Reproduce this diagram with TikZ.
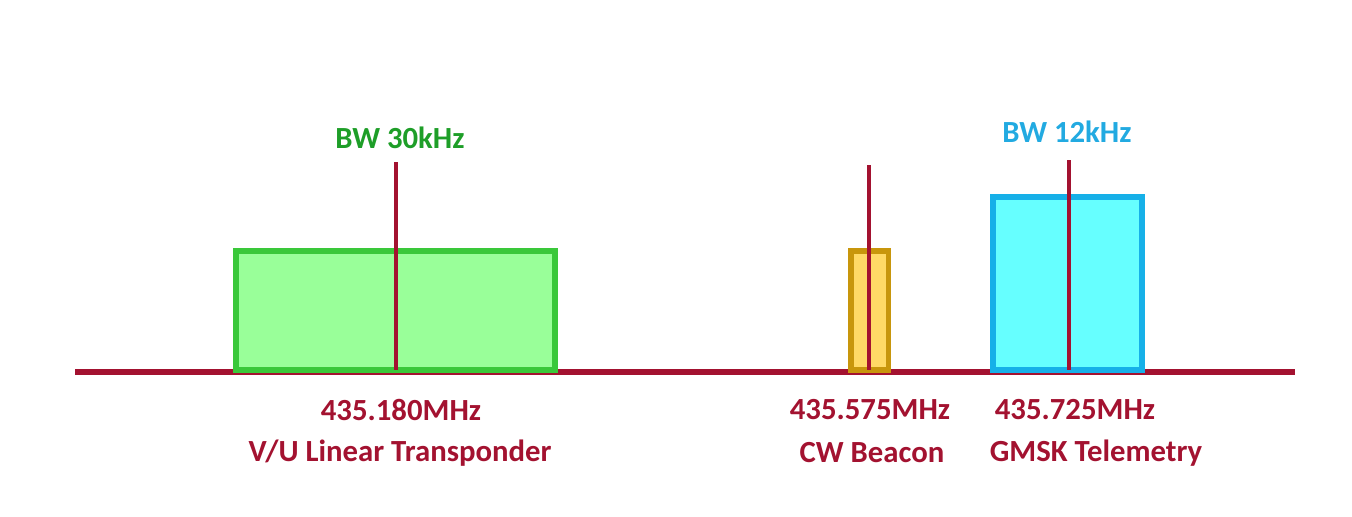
\documentclass[tikz,border=0pt]{standalone}
\usepackage{fontspec}
\setmainfont{Carlito}
\usetikzlibrary{positioning}

\definecolor{axisred}{RGB}{163,18,48}
\definecolor{greenedge}{RGB}{58,200,58}
\definecolor{greenfill}{RGB}{153,255,153}
\definecolor{goldedge}{RGB}{200,150,12}
\definecolor{goldfill}{RGB}{255,217,102}
\definecolor{cyanedge}{RGB}{22,176,232}
\definecolor{cyanfill}{RGB}{102,255,255}
\definecolor{bwgreen}{RGB}{30,158,40}
\definecolor{bwblue}{RGB}{34,170,225}

\tikzset{
  band/.style    = {draw, line width=3.2pt, anchor=south west, inner sep=0pt},
  marker/.style  = {draw=axisred, line width=1.8pt},
  freqlabel/.style = {text=axisred, font=\fontsize{17.5}{20}\selectfont\bfseries},
  bwlabel/.style = {font=\fontsize{17.5}{20}\selectfont\bfseries}
}

\begin{document}
\begin{tikzpicture}[x=0.02cm, y=-0.02cm]
 \useasboundingbox (0,0) rectangle (1352,517);

 % frequency axis
 \coordinate (AxisL) at (75,372);
 \coordinate (AxisR) at (1295,372);
 \draw[axisred, line width=3.4pt] (AxisL) -- (AxisR);

 % channel bands
 \node[band, draw=greenedge, fill=greenfill, minimum width=6.39cm, minimum height=2.39cm, name=LinBand ] at (233,373) {};
 \node[band, draw=goldedge,  fill=goldfill,  minimum width=0.75cm, minimum height=2.39cm, name=CWBand  ] at (848,373) {};
 \node[band, draw=cyanedge,  fill=cyanfill,  minimum width=2.99cm, minimum height=3.47cm, name=TlmBand ] at (990,373) {};

 % centre frequencies
 \coordinate (LinTop) at (396,162);  \coordinate (LinBot) at (396,370);
 \coordinate (CWTop)  at (869,165);  \coordinate (CWBot)  at (869,370);
 \coordinate (TlmTop) at (1069,160); \coordinate (TlmBot) at (1069,370);
 \draw[marker] (LinTop) -- (LinBot);
 \draw[marker] (CWTop)  -- (CWBot);
 \draw[marker] (TlmTop) -- (TlmBot);

 % bandwidth labels
 \node[bwlabel, text=bwgreen, name=LinBW] at (400,138)  {BW 30kHz};
 \node[bwlabel, text=bwblue,  name=TlmBW] at (1067,132) {BW 12kHz};

 % frequency and mode labels
 \node[freqlabel, name=LinFreq] at (401,410)  {435.180MHz};
 \node[freqlabel, name=LinName] at (400,453)  {V/U Linear Transponder};
 \node[freqlabel, name=CWFreq ] at (870,410)  {435.575MHz};
 \node[freqlabel, name=CWName ] at (872,453)  {CW Beacon};
 \node[freqlabel, name=TlmFreq] at (1075,410) {435.725MHz};
 \node[freqlabel, name=TlmName] at (1096,453) {GMSK Telemetry};
\end{tikzpicture}
\end{document}
